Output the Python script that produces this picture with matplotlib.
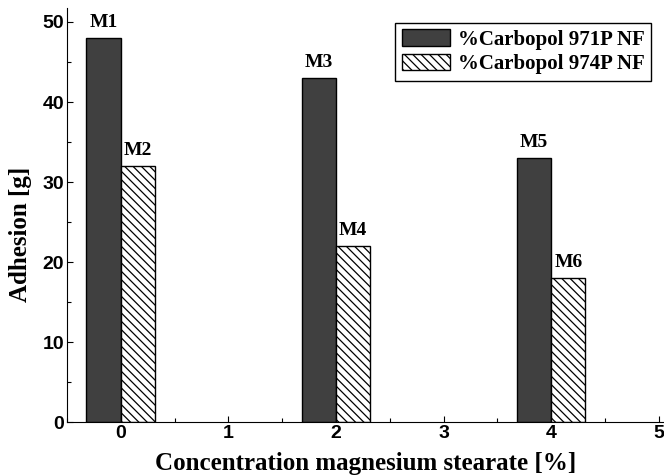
import matplotlib
matplotlib.use("Agg")
import matplotlib.pyplot as plt
from matplotlib.ticker import MultipleLocator

CONC = [0, 2, 4]
CARBOPOL_971 = [48, 43, 33]
CARBOPOL_974 = [32, 22, 18]
LABELS_971 = ["M1", "M3", "M5"]
LABELS_974 = ["M2", "M4", "M6"]

SERIF = ["Liberation Serif", "DejaVu Serif"]
SANS = ["Liberation Sans", "DejaVu Sans"]
DARK = "#404040"
W = 0.32


def main():
    plt.rcParams["hatch.linewidth"] = 0.9
    fig = plt.figure(figsize=(6.64, 4.76), dpi=100)
    ax = fig.add_axes([0.101, 0.1134, 0.899, 0.8698])

    x971 = [c - W / 2 for c in CONC]
    x974 = [c + W / 2 for c in CONC]
    b1 = ax.bar(x971, CARBOPOL_971, W, color=DARK, edgecolor="black", lw=1.0,
                label="%Carbopol 971P NF")
    b2 = ax.bar(x974, CARBOPOL_974, W, color="white", edgecolor="black", lw=1.0,
                hatch="\\\\\\\\", label="%Carbopol 974P NF")

    for bars, labs in ((b1, LABELS_971), (b2, LABELS_974)):
        for rect, lab in zip(bars, labs):
            ax.annotate(lab, (rect.get_x() + rect.get_width() / 2, rect.get_height()),
                        xytext=(0, 5), textcoords="offset points", ha="center",
                        va="bottom", family=SERIF, fontweight="bold", fontsize=14)

    ax.set_xlim(-0.5, 5.05)
    ax.set_ylim(0, 51.75)
    ax.spines[["top", "right"]].set_visible(False)
    ax.xaxis.set_major_locator(MultipleLocator(1))
    ax.xaxis.set_minor_locator(MultipleLocator(0.5))
    ax.yaxis.set_major_locator(MultipleLocator(10))
    ax.yaxis.set_minor_locator(MultipleLocator(5))
    ax.tick_params(which="both", direction="in", width=0.8)
    ax.tick_params(which="major", length=4, pad=2)
    ax.tick_params(which="minor", length=3)
    for t in ax.get_xticklabels() + ax.get_yticklabels():
        t.set_family(SANS)
        t.set_fontweight("bold")
        t.set_fontsize(14)

    ax.set_xlabel("Concentration magnesium stearate [%]", family=SERIF,
                  fontweight="bold", fontsize=18, labelpad=7)
    ax.set_ylabel("Adhesion [g]", family=SERIF, fontweight="bold", fontsize=18)
    ax.yaxis.set_label_coords(-0.058, 0.454)

    leg = ax.legend(loc="upper right", bbox_to_anchor=(0.978, 0.964), fancybox=False,
                    edgecolor="black", framealpha=1, handlelength=2.3,
                    handleheight=0.85, handletextpad=0.4, borderpad=0.3,
                    borderaxespad=0.0, labelspacing=0.2,
                    prop={"family": SERIF, "weight": "bold", "size": 15})
    leg.get_frame().set_linewidth(1.0)

    fig.savefig("out.png", dpi=100)


if __name__ == "__main__":
    main()
